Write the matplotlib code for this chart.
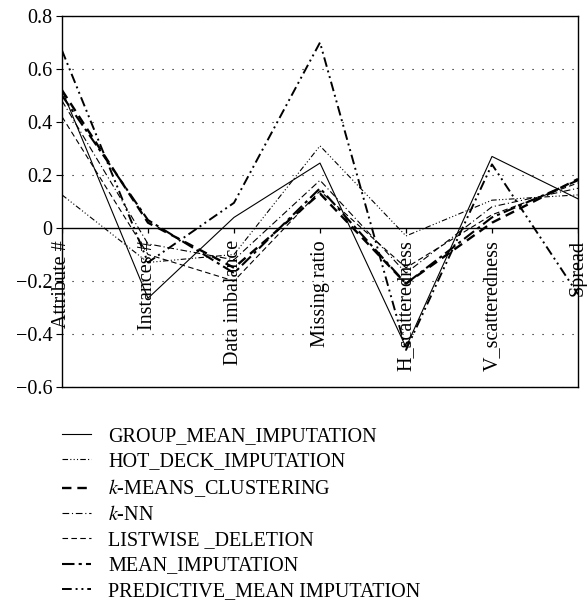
import matplotlib
matplotlib.use("Agg")
import matplotlib.pyplot as plt

plt.rcParams['font.family'] = ['Liberation Serif', 'DejaVu Serif']
plt.rcParams['mathtext.fontset'] = 'stix'

categories = ["Attribute #", "Instances #", "Data imbalance", "Missing ratio",
              "H_scatteredness", "V_scatteredness", "Spread"]

group_mean = [0.52, -0.265, 0.04, 0.245, -0.45, 0.27, 0.11]
hot_deck = [0.125, -0.13, -0.10, 0.31, -0.03, 0.105, 0.125]
k_means = [0.52, 0.02, -0.15, 0.13, -0.21, 0.02, 0.185]
k_nn = [0.48, -0.06, -0.12, 0.18, -0.17, 0.08, 0.15]
listwise = [0.42, -0.10, -0.20, 0.14, -0.15, 0.05, 0.17]
mean_imp = [0.50, 0.03, -0.17, 0.15, -0.21, 0.04, 0.18]
predictive = [0.67, -0.13, 0.095, 0.70, -0.46, 0.24, -0.25]

y_ticks = [-0.6, -0.4, -0.2, 0, 0.2, 0.4, 0.6, 0.8]
y_labels = ["\u22120.6", "\u22120.4", "\u22120.2", "0", "0.2", "0.4", "0.6", "0.8"]

series = [
    ("GROUP_MEAN_IMPUTATION", group_mean, dict(ls='-', lw=0.8)),
    ("HOT_DECK_IMPUTATION", hot_deck, dict(ls=(0, (5, 2, 1, 2, 1, 2, 1, 2)), lw=0.8)),
    ("$k$-MEANS_CLUSTERING", k_means, dict(ls=(0, (4, 2.5)), lw=1.7)),
    ("$k$-NN", k_nn, dict(ls=(0, (6, 2.5, 1, 2.5)), lw=0.8)),
    ("LISTWISE _DELETION", listwise, dict(ls=(0, (5, 3)), lw=0.8)),
    ("MEAN_IMPUTATION", mean_imp, dict(ls=(0, (6, 2, 1.5, 2)), lw=1.5)),
    ("PREDICTIVE_MEAN IMPUTATION", predictive, dict(ls=(0, (5, 2, 1, 2, 1, 2)), lw=1.4)),
]

fs = 14.5

fig = plt.figure(figsize=(5.87, 6.09), dpi=100)
ax = fig.add_axes([62 / 587, 1 - 387 / 609, 516 / 587, 371 / 609])

x = list(range(len(categories)))
for name, vals, style in series:
    ax.plot(x, vals, color='black', label=name, **style)

ax.set_xlim(0, len(categories) - 1)
ax.set_ylim(-0.6, 0.8)
ax.set_yticks(y_ticks)
ax.set_yticklabels(y_labels, fontsize=fs)
ax.set_xticks([])
ax.tick_params(axis='y', direction='out', length=4, width=0.8, pad=3)

for t in y_ticks:
    if t != 0:
        ax.axhline(t, color='black', lw=0.8, ls=(0, (1, 8)), zorder=0)
ax.axhline(0, color='black', lw=1.0, zorder=1)
ax.vlines(x, -0.018, 0, color='black', lw=0.9)

for i, name in enumerate(categories):
    ax.text(i, -0.045, name, rotation=90, ha='center', va='top', fontsize=fs)

for sp in ax.spines.values():
    sp.set_linewidth(1.0)

fig.legend(loc='upper left', bbox_to_anchor=(54 / 587, 1 - 419 / 609), frameon=False,
           fontsize=fs, handlelength=1.45, handletextpad=0.85, labelspacing=0.31,
           borderaxespad=0)

fig.savefig("out.png", dpi=100)
